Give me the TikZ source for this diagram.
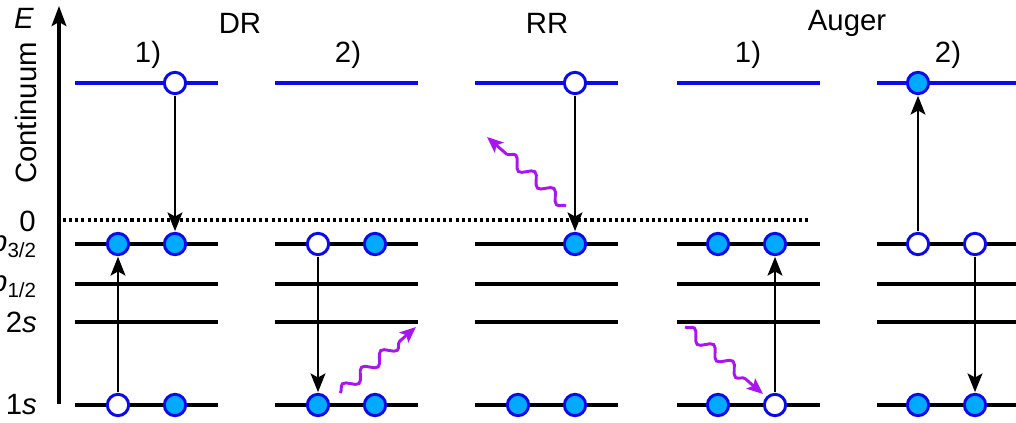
\documentclass[tikz,border=0pt]{standalone}
\usepackage{fontspec}
\setmainfont{Liberation Sans}
\usetikzlibrary{arrows.meta,decorations.pathmorphing}
\definecolor{lvlblue}{RGB}{10,10,235}
\definecolor{elecfill}{RGB}{0,170,255}
\definecolor{photon}{RGB}{170,20,240}
\tikzset{
  lvl/.style={line width=2.4pt},
  cont/.style={line width=2.4pt, draw=lvlblue},
  elec/.style={circle, draw=lvlblue, line width=2.2pt, fill=elecfill, minimum size=16pt, inner sep=0pt},
  hole/.style={elec, fill=white},
  trans/.style={line width=2.2pt, -{Stealth[length=14pt,width=11pt,inset=3pt]}, shorten >=0.5pt, shorten <=0.5pt},
  wave/.style={photon, line width=2.2pt, -{Stealth[length=12pt,width=10pt,inset=2.5pt]},
    decorate, decoration={snake, segment length=19pt, amplitude=4pt, post length=11pt}},
  lab/.style={font=\fontsize{22pt}{24pt}\selectfont},
  ylab/.style={lab, anchor=east, inner sep=0pt},
}
\begin{document}
\begin{tikzpicture}[x=0.75pt, y=-0.75pt]
\useasboundingbox (0,0) rectangle (1016,423);

% energy axis
\draw[line width=2.3pt, -{Stealth[length=15pt,width=11pt,inset=3pt]}] (59,404) -- (59,6);
\node[lab, inner sep=0pt] (E) at (24,18) {\textit{E}};
\node[lab, rotate=90] (cont) at (26,113) {Continuum};
\node[ylab] (z) at (36,221) {0};
\node[ylab] (p32) at (37,247) {\textit{p}\textsubscript{3/2}};
\node[ylab] (p12) at (37,287) {\textit{p}\textsubscript{1/2}};
\node[ylab] (s2) at (37,322) {2\textit{s}};
\node[ylab] (s1) at (37,405) {1\textit{s}};

% process titles
\node[lab] (tDR) at (240,23) {DR};
\node[lab] (tRR) at (547,23) {RR};
\node[lab] (tAu) at (847,23) {Auger};
\node[lab] (t1a) at (148,55) {1)};
\node[lab] (t2a) at (348,55) {2)};
\node[lab] (t1b) at (748,55) {1)};
\node[lab] (t2b) at (948,55) {2)};

% ionization threshold
\draw[line width=2.3pt, dash pattern=on 2.3pt off 2.3pt] (63,220) -- (808,220);

% bound and continuum levels for each panel
\foreach \xa/\xb in {75/218, 275/418, 475/618, 677/820, 877/1016} {
  \draw[cont] (\xa,83) -- (\xb,83);
  \draw[lvl] (\xa,244) -- (\xb,244);
  \draw[lvl] (\xa,284) -- (\xb,284);
  \draw[lvl] (\xa,322) -- (\xb,322);
  \draw[lvl] (\xa,405) -- (\xb,405);
}

% DR 1)
\node[hole] (a0) at (175,83) {};
\node[elec] (a1) at (118,244) {};
\node[elec] (a2) at (175,244) {};
\node[hole] (a3) at (118,405) {};
\node[elec] (a4) at (175,405) {};
\draw[trans] (a3) -- (a1);
\draw[trans] (a0) -- (a2);

% DR 2)
\node[hole] (b1) at (318,244) {};
\node[elec] (b2) at (375,244) {};
\node[elec] (b3) at (318,405) {};
\node[elec] (b4) at (375,405) {};
\draw[trans] (b1) -- (b3);
\coordinate (bw0) at (340,393);
\coordinate (bw1) at (416,327);
\draw[wave] (bw0) -- (bw1);

% RR
\node[hole] (c0) at (575,83) {};
\node[elec] (c1) at (575,244) {};
\node[elec] (c2) at (518,405) {};
\node[elec] (c3) at (575,405) {};
\draw[trans] (c0) -- (c1);
\coordinate (cw0) at (566,206);
\coordinate (cw1) at (487,137);
\draw[wave] (cw0) -- (cw1);

% Auger 1)
\node[elec] (d1) at (718,244) {};
\node[elec] (d2) at (775,244) {};
\node[elec] (d3) at (718,405) {};
\node[hole] (d4) at (775,405) {};
\draw[trans] (d4) -- (d2);
\coordinate (dw0) at (685,327);
\coordinate (dw1) at (763,394);
\draw[wave] (dw0) -- (dw1);

% Auger 2)
\node[elec] (e0) at (918,83) {};
\node[hole] (e1) at (918,244) {};
\node[hole] (e2) at (975,244) {};
\node[elec] (e3) at (918,405) {};
\node[elec] (e4) at (975,405) {};
\draw[trans] (e1) -- (e0);
\draw[trans] (e2) -- (e4);
\end{tikzpicture}
\end{document}
